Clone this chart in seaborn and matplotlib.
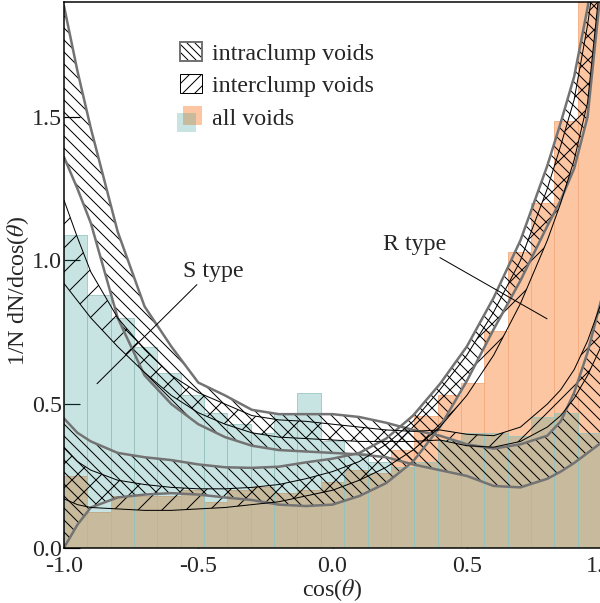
import numpy as np
import pandas as pd
import matplotlib
matplotlib.use("Agg")
import matplotlib.pyplot as plt
import seaborn as sns
from matplotlib.patches import Rectangle, Patch
from matplotlib.legend_handler import HandlerBase

# histogram of all voids, 23 bins on [-1, 1]
n_bins = 23
s_type_all = [1.09, 0.88, 0.80, 0.70, 0.61, 0.53, 0.47, 0.43, 0.40, 0.47, 0.54, 0.37,
              0.33, 0.30, 0.28, 0.30, 0.375, 0.40, 0.40, 0.39, 0.455, 0.47, 0.40]
r_type_all = [0.25, 0.126, 0.18, 0.18, 0.18, 0.20, 0.16, 0.20, 0.21, 0.19, 0.20, 0.23,
              0.27, 0.26, 0.34, 0.46, 0.53, 0.574, 0.753, 1.03, 1.20, 1.486, 1.95]

# uncertainty bands sampled on a common grid
cos_grid = [-1.0, -0.95, -0.9, -0.8, -0.7, -0.6, -0.5, -0.4, -0.3, -0.2, -0.1, 0.0,
            0.1, 0.2, 0.3, 0.4, 0.5, 0.6, 0.7, 0.8, 0.85, 0.9, 0.95, 1.0]

intra_s_hi = [1.886, 1.66, 1.46, 1.10, 0.84, 0.70, 0.575, 0.53, 0.48, 0.465, 0.465, 0.465,
              0.455, 0.435, 0.41, 0.39, 0.36, 0.345, 0.36, 0.39, 0.44, 0.54, 0.68, 0.86]
intra_s_lo = [1.36, 1.25, 1.13, 0.80, 0.60, 0.50, 0.43, 0.385, 0.355, 0.34, 0.335, 0.33,
              0.325, 0.315, 0.29, 0.27, 0.25, 0.215, 0.21, 0.24, 0.265, 0.295, 0.33, 0.365]

intra_r_hi = [0.45, 0.40, 0.37, 0.33, 0.315, 0.305, 0.29, 0.28, 0.278, 0.282, 0.297, 0.31,
              0.33, 0.38, 0.46, 0.57, 0.70, 0.87, 1.07, 1.33, 1.48, 1.64, 1.88, 2.2]
intra_r_lo = [0.0, 0.08, 0.14, 0.175, 0.185, 0.19, 0.185, 0.175, 0.166, 0.15, 0.145, 0.15,
              0.18, 0.225, 0.30, 0.42, 0.58, 0.76, 0.93, 1.12, 1.21, 1.32, 1.5, 1.95]

inter_s_hi = [1.21, 1.08, 0.96, 0.80, 0.69, 0.60, 0.54, 0.50, 0.46, 0.445, 0.44, 0.43,
              0.42, 0.41, 0.405, 0.41, 0.395, 0.39, 0.42, 0.50, 0.55, 0.62, 0.72, 0.85]
inter_s_lo = [0.92, 0.86, 0.80, 0.70, 0.61, 0.53, 0.47, 0.43, 0.40, 0.385, 0.38, 0.375,
              0.37, 0.37, 0.37, 0.375, 0.355, 0.35, 0.37, 0.42, 0.46, 0.52, 0.60, 0.70]

inter_r_hi = [0.35, 0.30, 0.27, 0.235, 0.22, 0.21, 0.205, 0.205, 0.21, 0.22, 0.24, 0.265,
              0.30, 0.36, 0.44, 0.55, 0.67, 0.82, 1.0, 1.25, 1.4, 1.56, 1.82, 2.15]
inter_r_lo = [0.17, 0.15, 0.14, 0.135, 0.13, 0.13, 0.135, 0.14, 0.15, 0.16, 0.18, 0.20,
              0.235, 0.28, 0.34, 0.42, 0.53, 0.67, 0.85, 1.07, 1.2, 1.35, 1.55, 2.0]

ORANGE = "#fdc6a2"
TEAL = "#27978f"
GRAY = "#737373"
FS = 24

sns.set_style("ticks")
plt.rcParams["font.family"] = "serif"
plt.rcParams["font.serif"] = ["Liberation Serif", "DejaVu Serif"]
plt.rcParams["mathtext.fontset"] = "stix"
plt.rcParams["axes.unicode_minus"] = False
plt.rcParams["hatch.linewidth"] = 1.0

fig = plt.figure(figsize=(600 / 72, 603 / 72), dpi=72)
ax = fig.add_axes([64 / 600, 55.3 / 603, 537 / 600, 545.7 / 603])

width = 2.0 / n_bins
centers = [-1.0 + width * (i + 0.5) for i in range(n_bins)]
hist = pd.DataFrame({"cos": centers, "S": s_type_all, "R": r_type_all})

sns.histplot(data=hist, x="cos", weights="R", bins=n_bins, binrange=(-1.0, 1.0),
             color=ORANGE, alpha=1.0, edgecolor="#f3a97b", linewidth=0.8, ax=ax)
sns.histplot(data=hist, x="cos", weights="S", bins=n_bins, binrange=(-1.0, 1.0),
             color=TEAL, alpha=0.25, edgecolor="#98c4bf", linewidth=0.8, ax=ax)


def band(lo, hi, hatch, edge, lw):
    ax.fill_between(cos_grid, lo, hi, facecolor="none", edgecolor="black",
                    hatch=hatch, linewidth=0)
    ax.plot(cos_grid, lo, color=edge, lw=lw, solid_capstyle="round")
    ax.plot(cos_grid, hi, color=edge, lw=lw, solid_capstyle="round")


band(intra_s_lo, intra_s_hi, "\\\\", GRAY, 2.5)
band(intra_r_lo, intra_r_hi, "\\\\", GRAY, 2.5)
band(inter_s_lo, inter_s_hi, "/", "black", 1.0)
band(inter_r_lo, inter_r_hi, "/", "black", 1.0)

# annotations
ax.text(-0.445, 0.96, "S type", fontsize=FS, ha="center", va="center")
ax.plot([-0.505, -0.877], [0.916, 0.571], color="black", lw=1)
ax.text(0.307, 1.056, "R type", fontsize=FS, ha="center", va="center")
ax.plot([0.40, 0.799], [1.01, 0.797], color="black", lw=1)


class HatchHandler(HandlerBase):
    def __init__(self, hatch, edge, lw):
        super().__init__()
        self.hatch, self.edge, self.lw = hatch, edge, lw

    def create_artists(self, legend, orig, xd, yd, width, height, fontsize, trans):
        h = Rectangle((-xd, -yd), width, height, facecolor="white", edgecolor="black",
                      hatch=self.hatch, linewidth=0, transform=trans)
        o = Rectangle((-xd, -yd), width, height, facecolor="none", edgecolor=self.edge,
                      linewidth=self.lw, transform=trans)
        return [h, o]


class TwoSquares(HandlerBase):
    def create_artists(self, legend, orig, xd, yd, width, height, fontsize, trans):
        a = Rectangle((-xd + 0.15 * height, -yd + 0.05 * height), height, height,
                      facecolor=ORANGE, edgecolor="none", transform=trans)
        b = Rectangle((-xd - 0.15 * height, -yd - 0.3 * height), height, height,
                      facecolor=TEAL, alpha=0.25, edgecolor="none", transform=trans)
        return [a, b]


h_intra = Patch(label="intraclump voids")
h_inter = Patch(label="interclump voids")
h_all = Patch(label="all voids")
ax.legend(handles=[h_intra, h_inter, h_all],
          handler_map={h_intra: HatchHandler("\\\\\\", GRAY, 2.0),
                       h_inter: HatchHandler("//", "black", 1.0),
                       h_all: TwoSquares()},
          loc="upper left", bbox_to_anchor=(0.216, 0.927), frameon=False, fontsize=FS,
          borderpad=0, borderaxespad=0, handlelength=0.92, handleheight=0.85,
          handletextpad=0.42, labelspacing=0.4)

ax.set_xlim(-1.0, 1.0)
ax.set_ylim(0.0, 1.9)
ax.set_xticks([-1.0, -0.5, 0.0, 0.5, 1.0])
ax.set_yticks([0.0, 0.5, 1.0, 1.5])
ax.xaxis.set_major_formatter(matplotlib.ticker.FormatStrFormatter("%.1f"))
ax.yaxis.set_major_formatter(matplotlib.ticker.FormatStrFormatter("%.1f"))
ax.tick_params(direction="in", length=16, width=1.2, labelsize=FS, color="black")
ax.tick_params(axis="x", pad=8)
ax.tick_params(axis="y", pad=2)
for sp in ax.spines.values():
    sp.set_linewidth(1.5)
    sp.set_color("black")

ax.set_xlabel(r"cos($\theta$)", fontsize=FS, labelpad=0)
ax.set_ylabel(r"1/N dN/dcos($\theta$)", fontsize=FS)
ax.yaxis.set_label_coords(-0.062, 0.47)

fig.savefig("out.png", dpi=72)
